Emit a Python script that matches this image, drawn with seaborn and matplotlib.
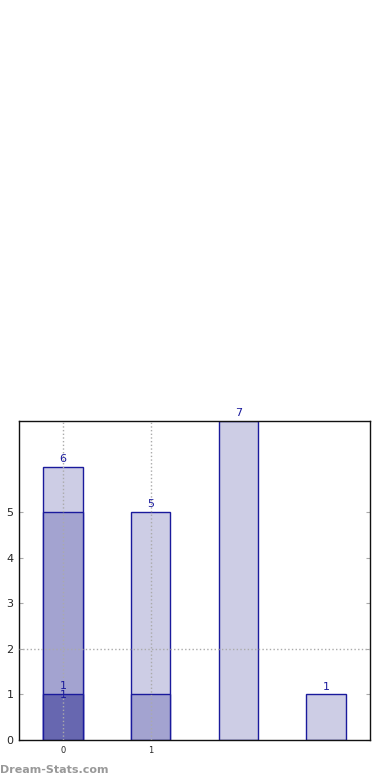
import matplotlib
matplotlib.use("Agg")
import matplotlib.pyplot as plt
import seaborn as sns
import pandas as pd

categories = ["0", "1", "2", "3"]
total_vals = [6, 5, 7, 1]
mid_cats = ["0", "1"]
mid_vals = [5, 1]
dark_cats = ["0"]
dark_vals = [1]
label_cats = [0, 0, 0, 1, 2, 3]
label_vals = [6, 1, 1, 5, 7, 1]
label_offsets = [0.06, 0.08, -0.12, 0.06, 0.06, 0.06]
label_texts = ["6", "1", "1", "5", "7", "1"]
xtick_pos = [0, 1]
xtick_labels = ["0", "1"]
yticks = [0, 1, 2, 3, 4, 5]
grid_x = [0, 1]
grid_y = [2]

sns.set_style("white")
plt.rcParams['font.family'] = ['DejaVu Sans']

fig = plt.figure(figsize=(3.9, 7.8), dpi=100)
ax = fig.add_axes([19/390, 40/780, 351/390, 319/780])

edge = "#1a1a9c"
layers = [
    (categories, total_vals, "#cdcde5"),
    (mid_cats, mid_vals, "#a3a3d0"),
    (dark_cats, dark_vals, "#6767b0"),
]
for cats, vals, col in layers:
    df = pd.DataFrame({"cat": cats, "val": vals})
    sns.barplot(data=df, x="cat", y="val", order=categories, color=col,
                saturation=1, width=0.45, edgecolor=edge, linewidth=1.0,
                ax=ax, zorder=1)

for gx in grid_x:
    ax.axvline(gx, color="#aaaaaa", linestyle=":", linewidth=1.0, zorder=3)
for gy in grid_y:
    ax.axhline(gy, color="#aaaaaa", linestyle=":", linewidth=1.0, zorder=3)

for c, v, o, t in zip(label_cats, label_vals, label_offsets, label_texts):
    ax.text(c, v + o, t, ha="center", va="bottom", color="#1a1a9c", fontsize=8, zorder=4)

ax.set_xlim(-0.5, 3.5)
ax.set_ylim(0, 7)
ax.set_xticks(xtick_pos)
ax.set_xticklabels(xtick_labels, fontsize=6)
ax.set_yticks(yticks)
ax.set_yticklabels([str(y) for y in yticks], fontsize=8)
ax.tick_params(axis="y", direction="in", length=3, color="#aaaaaa", right=True, left=True, pad=4)
ax.tick_params(axis="x", direction="in", length=0, pad=4)
ax.set_xlabel("")
ax.set_ylabel("")
for s in ax.spines.values():
    s.set_color("#111111")
    s.set_linewidth(1.0)
    s.set_visible(True)

fig.text(0.0, 1 - 770/780, "Dream-Stats.com", color="#999999", fontsize=8, fontweight="bold",
         ha="left", va="center")

fig.savefig("out.png", dpi=100)
